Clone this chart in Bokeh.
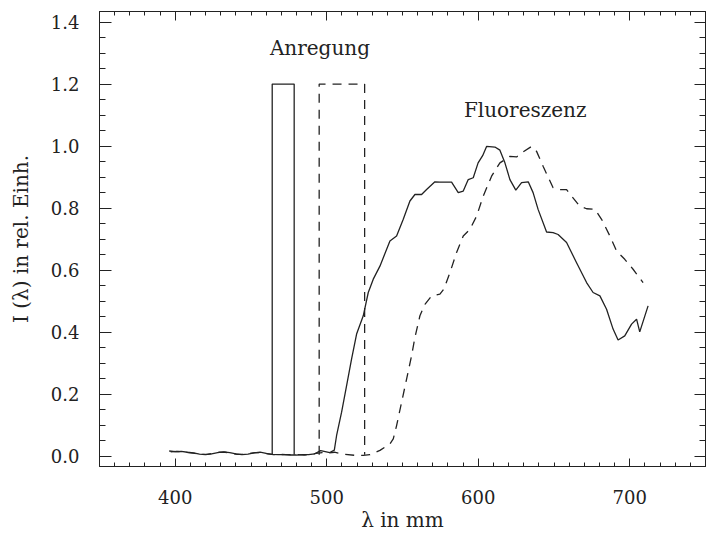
from bokeh.plotting import figure
from bokeh.models import Range1d, LinearAxis, FixedTicker, Label, CustomJSTickFormatter
from bokeh.embed import file_html
from bokeh.resources import INLINE

# ---------------- data ----------------
x_ticks = [400, 500, 600, 700]
y_ticks = [0.0, 0.2, 0.4, 0.6, 0.8, 1.0, 1.2, 1.4]

# excitation bands (nm) and their height
exc_solid_left, exc_solid_right = 464.0, 478.5
exc_dash_left, exc_dash_right = 495.0, 525.0
exc_height = 1.2
exc_base = 0.005

# fluorescence, solid curve
solid_x = [396, 400, 404, 408, 412, 416, 420, 424, 428, 432, 436, 440, 444, 448,
           452, 456, 460, 464, 468, 472, 476, 480, 484, 488, 492, 496, 499, 502,
           505, 506.5, 509.8, 513.1, 516.4, 519.7, 524.1, 527.4, 530.7, 535.1,
           541.7, 546.1, 550.5, 554.9, 558.2, 562.6, 565.9, 571.4, 574.7, 582.4,
           586.8, 590.1, 593.4, 596.7, 599.9, 602.9, 605.5, 611.0, 614.3, 617.6,
           620.9, 624.8, 628.6, 633.0, 636.2, 639.5, 645.1, 649.4, 652.7, 658.3,
           664.9, 671.5, 675.8, 680.3, 684.7, 689.0, 692.3, 696.7, 701.2, 704.5,
           706.6, 712.1]
solid_y = [0.017, 0.015, 0.016, 0.013, 0.011, 0.007, 0.005, 0.008, 0.012, 0.014,
           0.012, 0.008, 0.005, 0.007, 0.011, 0.013, 0.009, 0.006, 0.005, 0.005,
           0.004, 0.004, 0.005, 0.005, 0.008, 0.018, 0.015, 0.012, 0.020, 0.067,
           0.142, 0.228, 0.314, 0.394, 0.453, 0.528, 0.571, 0.613, 0.694, 0.710,
           0.764, 0.823, 0.844, 0.844, 0.860, 0.885, 0.884, 0.884, 0.850, 0.855,
           0.892, 0.898, 0.946, 0.969, 0.999, 0.997, 0.987, 0.946, 0.892, 0.858,
           0.882, 0.885, 0.850, 0.796, 0.723, 0.721, 0.715, 0.689, 0.624, 0.560,
           0.528, 0.517, 0.474, 0.410, 0.375, 0.388, 0.426, 0.442, 0.401, 0.485]

# fluorescence, dashed curve
dash_x = [397, 401, 405, 409, 413, 417, 421, 425, 429, 433, 437, 441, 445, 449,
          453, 457, 461, 465, 469, 473, 477, 481, 485, 489, 493, 497, 501, 505,
          508, 512, 518.6, 524.1, 528.5, 535.1, 541.7, 543.9, 546.1, 549.4, 552.7,
          556.0, 558.2, 561.5, 564.8, 569.2, 574.7, 577.3, 581.3, 585.7, 590.1,
          594.5, 598.9, 603.3, 608.8, 614.3, 620.9, 625.3, 628.6, 635.2, 638.5,
          642.8, 649.4, 653.9, 658.3, 661.6, 667.1, 671.5, 677.0, 681.4, 686.9,
          691.3, 696.7, 702.2, 708.8]
dash_y = [0.014, 0.016, 0.014, 0.012, 0.009, 0.006, 0.006, 0.010, 0.013, 0.013,
          0.010, 0.006, 0.006, 0.009, 0.012, 0.012, 0.008, 0.005, 0.006, 0.005,
          0.005, 0.005, 0.004, 0.006, 0.009, 0.012, 0.010, 0.013, 0.010, 0.006,
          0.003, 0.003, 0.005, 0.019, 0.040, 0.056, 0.099, 0.174, 0.249, 0.324,
          0.383, 0.453, 0.490, 0.517, 0.523, 0.539, 0.592, 0.657, 0.710, 0.732,
          0.774, 0.839, 0.903, 0.946, 0.967, 0.965, 0.978, 0.999, 0.983, 0.935,
          0.866, 0.860, 0.860, 0.839, 0.806, 0.798, 0.796, 0.764, 0.710, 0.662,
          0.635, 0.603, 0.560]

INK = "#222222"
FONT = "DejaVu Serif"

p = figure(width=706, height=534, output_backend="svg", toolbar_location=None,
           x_range=Range1d(350, 750), y_range=Range1d(-0.033, 1.434),
           min_border_left=99, min_border_right=1, min_border_top=11,
           min_border_bottom=66)
p.xgrid.visible = False
p.ygrid.visible = False
p.outline_line_color = INK
p.background_fill_color = "white"
p.border_fill_color = "white"

x_tick = FixedTicker(ticks=x_ticks, minor_ticks=list(range(350, 751, 10)))
y_tick = FixedTicker(ticks=y_ticks, minor_ticks=[round(-0.05 + 0.05 * i, 2) for i in range(31)])


def style(ax, major_in, minor_in, labels=True):
    ax.axis_line_color = INK
    ax.major_tick_line_color = INK
    ax.minor_tick_line_color = INK
    ax.major_tick_out = 0
    ax.minor_tick_out = 0
    ax.major_tick_in = major_in
    ax.minor_tick_in = minor_in
    if labels:
        ax.major_label_text_font = FONT
        ax.major_label_text_font_size = "18px"
        ax.major_label_text_color = INK
        ax.axis_label_text_font = FONT
        ax.axis_label_text_font_size = "20px"
        ax.axis_label_text_font_style = "normal"
        ax.axis_label_text_color = INK
    else:
        ax.formatter = CustomJSTickFormatter(code="return '';")
        ax.major_label_text_font_size = "1px"
        ax.major_label_standoff = 0


xa = p.xaxis[0]
xa.ticker = x_tick
style(xa, 8, 4)
xa.axis_label = "λ in mm"
xa.major_label_standoff = 23
xa.axis_label_standoff = 1

ya = p.yaxis[0]
ya.ticker = y_tick
style(ya, 12, 6)
ya.axis_label = "I (λ) in rel. Einh."
ya.formatter = CustomJSTickFormatter(code="return tick.toFixed(1);")
ya.major_label_standoff = 20
ya.axis_label_standoff = 15

top = LinearAxis(ticker=x_tick)
style(top, 9, 4, labels=False)
p.add_layout(top, "above")
right = LinearAxis(ticker=y_tick)
style(right, 11, 6, labels=False)
p.add_layout(right, "right")

# excitation bands
p.line([exc_solid_left, exc_solid_left, exc_solid_right, exc_solid_right],
       [exc_base, exc_height, exc_height, exc_base], line_color=INK, line_width=1.3)
p.line([exc_dash_left, exc_dash_left, exc_dash_right, exc_dash_right],
       [exc_base, exc_height, exc_height, exc_base], line_color=INK, line_width=1.3,
       line_dash="9 7")

# fluorescence curves
p.line(solid_x, solid_y, line_color=INK, line_width=1.3)
p.line(dash_x, dash_y, line_color=INK, line_width=1.3, line_dash="9 7")

p.add_layout(Label(x=495.5, y=1.315, text="Anregung", text_align="center",
                   text_baseline="alphabetic", text_font=FONT, text_font_size="20px",
                   text_color=INK))
p.add_layout(Label(x=631, y=1.117, text="Fluoreszenz", text_align="center",
                   text_baseline="alphabetic", text_font=FONT, text_font_size="20px",
                   text_color=INK))

open("out.html", "w").write(file_html(p, INLINE))
